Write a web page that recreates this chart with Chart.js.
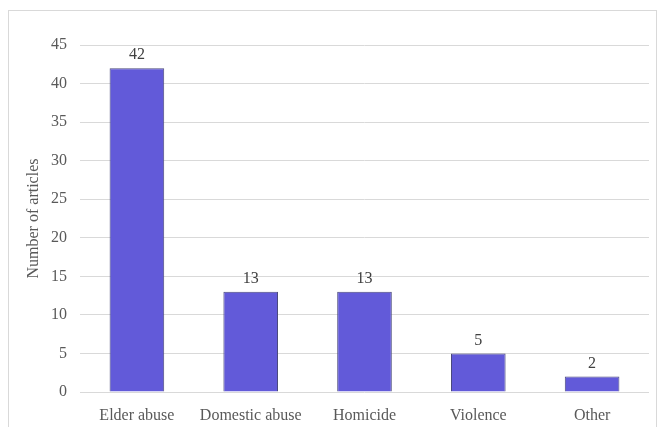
<!DOCTYPE html>
<html>
<head>
<meta charset="utf-8">
<script src="https://cdn.jsdelivr.net/npm/chart.js@4.4.1/dist/chart.umd.min.js"></script>
<style>
  html, body { margin: 0; padding: 0; background: #fff; }
  #wrap { position: relative; width: 658px; height: 427px; }
  #frame { position: absolute; left: 8px; top: 10px; width: 649px; height: 430px; border: 1px solid #d9d9d9; box-sizing: border-box; }
  canvas { position: absolute; left: 0; top: 0; }
</style>
</head>
<body>
<div id="wrap">
  <div id="frame"></div>
  <canvas id="chart" width="658" height="427"></canvas>
</div>
<script>
// 데이터
const categories = ["Elder abuse", "Domestic abuse", "Homicide", "Violence", "Other"];
const articles = [42, 13, 13, 5, 2];
const yTicks = [0, 5, 10, 15, 20, 25, 30, 35, 40, 45];

const FONT = "'Liberation Serif', 'Times New Roman', serif";

// 막대 위 값 표시
const valueLabels = {
  id: "valueLabels",
  afterDatasetsDraw(chart) {
    const { ctx } = chart;
    const meta = chart.getDatasetMeta(0);
    ctx.save();
    ctx.font = "16px " + FONT;
    ctx.fillStyle = "#404040";
    ctx.textAlign = "center";
    ctx.textBaseline = "bottom";
    meta.data.forEach((bar, i) => {
      ctx.fillText(String(chart.data.datasets[0].data[i]), bar.x, bar.y - 5);
    });
    ctx.restore();
  }
};

new Chart(document.getElementById("chart"), {
  type: "bar",
  data: {
    labels: categories,
    datasets: [{
      data: articles,
      backgroundColor: "#625ad9",
      borderColor: "#4b4a7c",
      borderWidth: 1,
      categoryPercentage: 1,
      barPercentage: 0.48
    }]
  },
  options: {
    responsive: false,
    animation: false,
    layout: { padding: { left: 0, right: 9, top: 45, bottom: 0 } },
    plugins: { legend: { display: false }, tooltip: { enabled: false } },
    scales: {
      x: {
        grid: { display: false },
        border: { display: false },
        ticks: { color: "#595959", font: { family: FONT, size: 16 }, padding: 6, maxRotation: 0 },
        afterFit: s => { s.height = 35; }
      },
      y: {
        min: 0, max: 45,
        afterBuildTicks: s => { s.ticks = yTicks.map(v => ({ value: v })); },
        grid: { color: "#d9d9d9", lineWidth: 1, drawTicks: false },
        border: { display: false },
        ticks: { color: "#595959", font: { family: FONT, size: 16 }, padding: 13 },
        title: {
          display: true, text: "Number of articles", color: "#595959",
          font: { family: FONT, size: 16 }, padding: { top: 24, bottom: 0 }
        },
        afterFit: s => { s.width = 80; }
      }
    }
  },
  plugins: [valueLabels]
});
</script>
</body>
</html>
